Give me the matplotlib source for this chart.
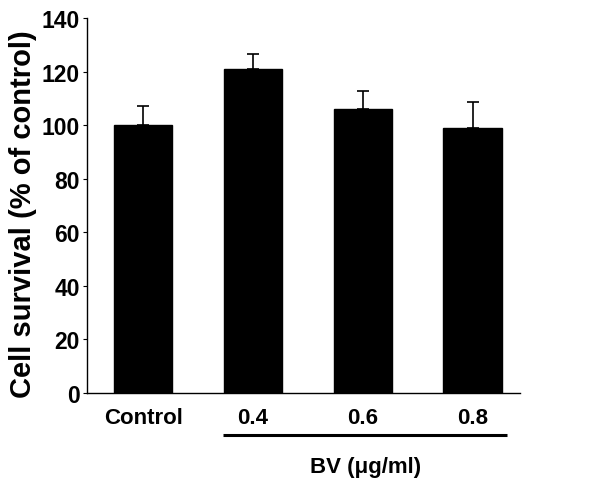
import matplotlib
matplotlib.use('Agg')
import matplotlib.pyplot as plt

# data
groups = ['Control', '0.4', '0.6', '0.8']
survival = [100, 121, 106, 99]
sem = [7, 5.6, 6.7, 9.7]

plt.rcParams['font.family'] = ['Liberation Sans', 'DejaVu Sans']
plt.rcParams['font.weight'] = 'bold'

fig = plt.figure(figsize=(6.13, 4.81), dpi=100)
ax = fig.add_axes([0.142, 0.181, 0.706, 0.7796])

x = list(range(len(groups)))
ax.bar(x, survival, width=0.53, color='black', edgecolor='black')
ax.errorbar(x, survival, yerr=[[0] * len(sem), sem], fmt='none',
            ecolor='black', elinewidth=1.2, capsize=4, capthick=1.2)

ax.set_xlim(-0.51, 3.43)
ax.set_ylim(0, 140)
ax.set_yticks(range(0, 141, 20))
ax.set_xticks(x)
ax.set_xticklabels(groups)
ax.tick_params(axis='y', length=3, width=0.8, labelsize=16.5, pad=2)
ax.tick_params(axis='x', length=0, labelsize=16, pad=10)
for lbl in ax.get_yticklabels() + ax.get_xticklabels():
    lbl.set_fontweight('bold')

ax.spines['top'].set_visible(False)
ax.spines['right'].set_visible(False)
ax.spines['left'].set_linewidth(1.0)
ax.spines['bottom'].set_linewidth(1.0)

ax.set_ylabel('Cell survival (% of control)', fontsize=21, fontweight='bold',
              va='center')
ax.yaxis.set_label_coords(-0.147, 0.48)

# bracket under the BV doses
ax.plot([0.73, 3.31], [-15.8, -15.8], color='black', lw=2.2, clip_on=False,
        solid_capstyle='butt')
ax.text(2.03, -27.5, 'BV (\u03bcg/ml)', ha='center', va='center', fontsize=16,
        fontweight='bold')

fig.savefig('out.png', dpi=100)
